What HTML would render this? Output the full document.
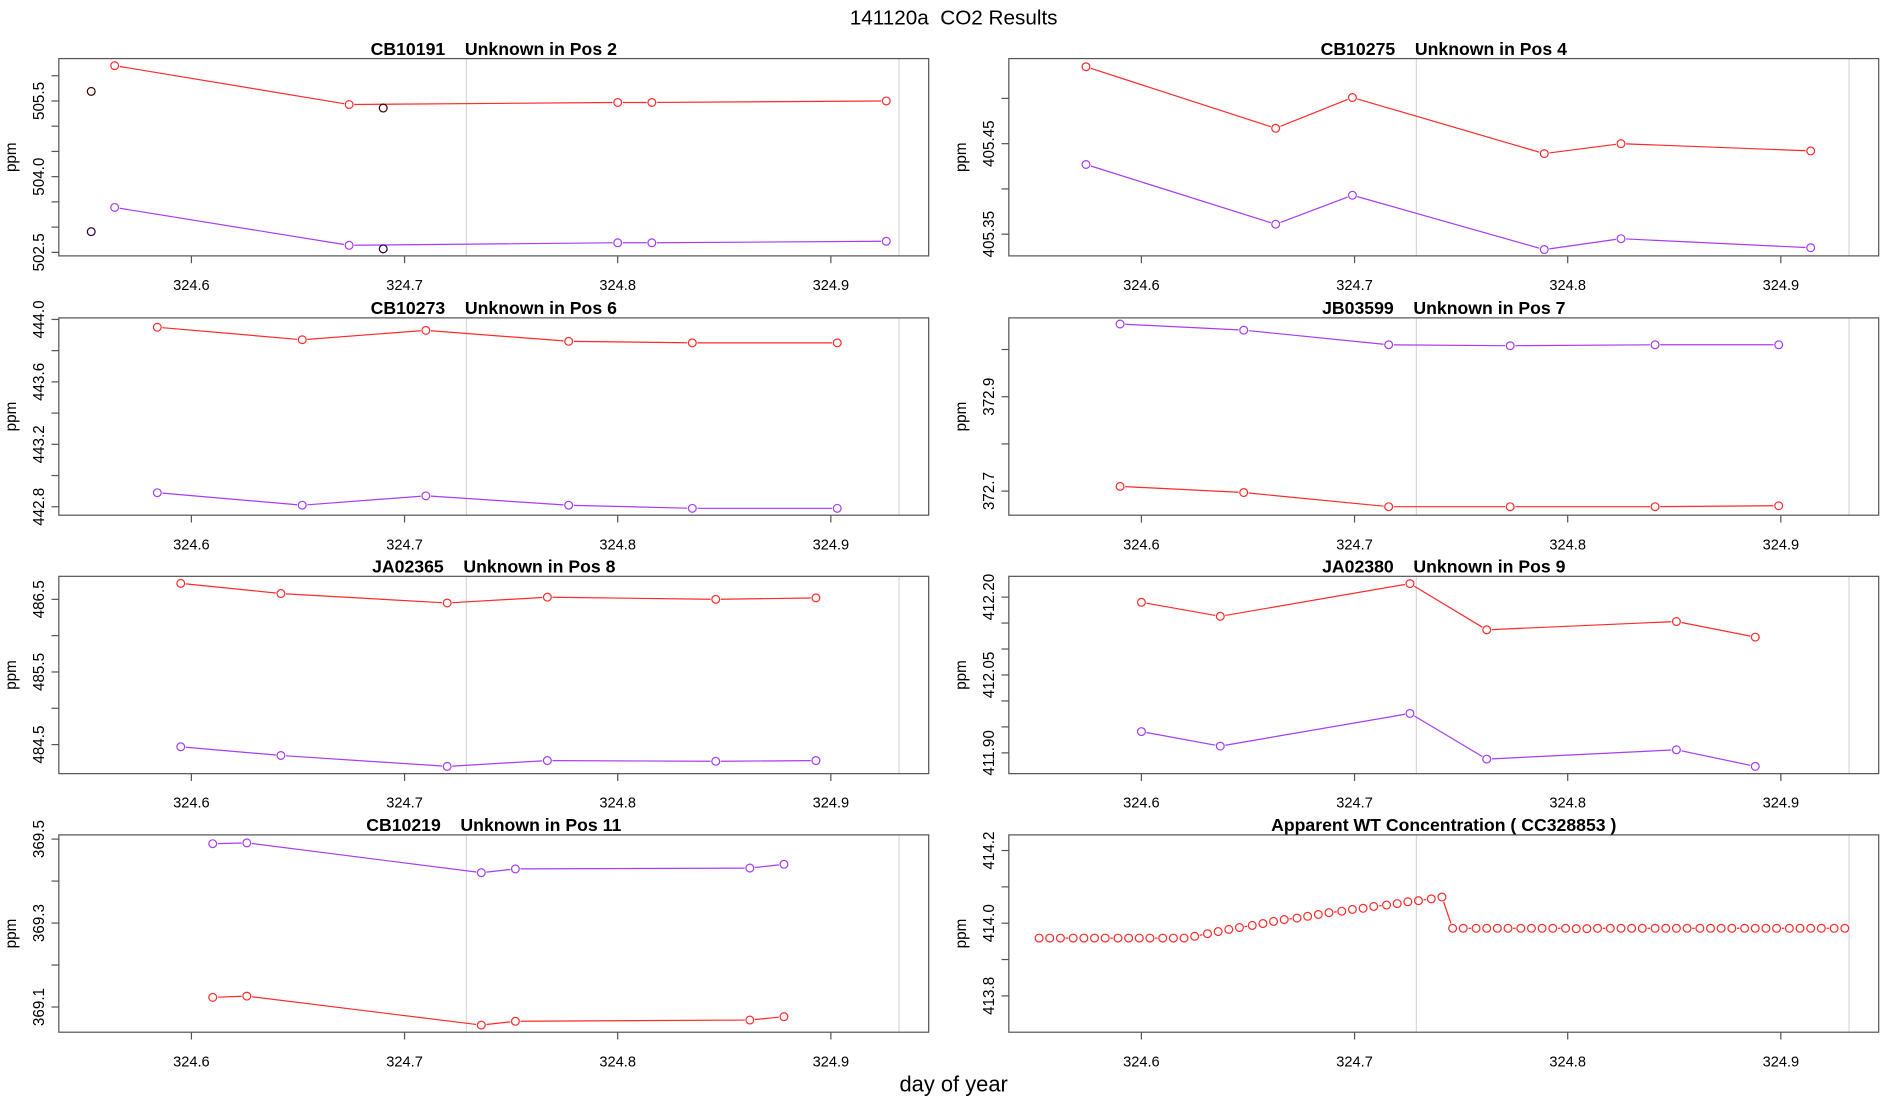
<!DOCTYPE html>
<html><head><meta charset="utf-8"><style>
html,body{margin:0;padding:0;background:#fff}
svg{display:block}
text{font-family:"Liberation Sans",sans-serif}
</style></head><body>
<svg id="chart" width="1900" height="1100" viewBox="0 0 1560 903.16" xmlns="http://www.w3.org/2000/svg">
<text x="783" y="20" font-size="17" text-anchor="middle">141120a&#160;&#160;CO2 Results</text>
<text x="783" y="896" font-size="18" text-anchor="middle">day of year</text>
</svg>
<script>
// ---- data ----
const xTickLabels = [324.6, 324.7, 324.8, 324.9];
const refLines = [324.729, 324.932];

const p1Title = "CB10191    Unknown in Pos 2";
const p1X = [324.564, 324.674, 324.800, 324.816, 324.926];
const p1Red = [506.20, 505.43, 505.47, 505.47, 505.50];
const p1Purple = [503.39, 502.64, 502.69, 502.69, 502.72];
const p1DarkX = [324.553, 324.690];
const p1DarkRed = [505.69, 505.36];
const p1DarkPurple = [502.91, 502.57];

const p2Title = "CB10275    Unknown in Pos 4";
const p2X = [324.574, 324.663, 324.699, 324.789, 324.825, 324.914];
const p2Red = [405.535, 405.467, 405.501, 405.439, 405.450, 405.442];
const p2Purple = [405.427, 405.361, 405.393, 405.333, 405.345, 405.335];

const p3Title = "CB10273    Unknown in Pos 6";
const p3X = [324.584, 324.652, 324.710, 324.777, 324.835, 324.903];
const p3Red = [443.95, 443.87, 443.93, 443.86, 443.85, 443.85];
const p3Purple = [442.89, 442.81, 442.87, 442.81, 442.79, 442.79];

const p4Title = "JB03599    Unknown in Pos 7";
const p4X = [324.590, 324.648, 324.716, 324.773, 324.841, 324.899];
const p4Purple = [373.054, 373.041, 373.010, 373.008, 373.010, 373.010];
const p4Red = [372.710, 372.697, 372.667, 372.667, 372.667, 372.669];

const p5Title = "JA02365    Unknown in Pos 8";
const p5X = [324.595, 324.642, 324.720, 324.767, 324.846, 324.893];
const p5Red = [486.72, 486.58, 486.45, 486.53, 486.50, 486.52];
const p5Purple = [484.47, 484.35, 484.20, 484.28, 484.27, 484.28];

const p6Title = "JA02380    Unknown in Pos 9";
const p6X = [324.600, 324.637, 324.726, 324.762, 324.851, 324.888];
const p6Red = [412.190, 412.163, 412.226, 412.137, 412.153, 412.123];
const p6Purple = [411.941, 411.913, 411.976, 411.888, 411.906, 411.874];

const p7Title = "CB10219    Unknown in Pos 11";
const p7X = [324.610, 324.626, 324.736, 324.752, 324.862, 324.878];
const p7Purple = [369.489, 369.491, 369.420, 369.429, 369.431, 369.440];
const p7Red = [369.123, 369.126, 369.057, 369.066, 369.069, 369.077];

const p8Title = "Apparent WT Concentration ( CC328853 )";
const p8X = [324.552,324.557,324.562,324.568,324.573,324.578,324.583,324.589,324.594,324.599,324.604,324.610,324.615,324.620,324.625,324.631,324.636,324.641,324.646,324.652,324.657,324.662,324.667,324.673,324.678,324.683,324.688,324.694,324.699,324.704,324.709,324.715,324.720,324.725,324.730,324.736,324.741,
324.746,324.751,324.757,324.762,324.767,324.772,324.778,324.783,324.788,324.793,324.799,324.804,324.809,324.814,324.820,324.825,324.830,324.835,324.841,324.846,324.851,324.856,324.862,324.867,324.872,324.877,324.883,324.888,324.893,324.898,324.904,324.909,324.914,324.919,324.925,324.930];
const p8Red = [413.959,413.959,413.959,413.959,413.959,413.959,413.959,413.959,413.959,413.959,413.959,413.959,413.959,413.959,
413.964,413.971,413.977,413.983,413.988,413.994,413.999,414.005,414.010,414.014,414.019,414.024,414.029,414.033,414.038,414.041,414.046,414.050,414.054,414.059,414.062,414.067,414.072,
413.986,413.986,413.986,413.986,413.986,413.986,413.986,413.986,413.986,413.986,413.986,413.985,413.985,413.986,413.986,413.986,413.986,413.986,413.986,413.986,413.986,413.986,413.986,413.986,413.986,413.986,413.986,413.986,413.986,413.986,413.986,413.986,413.986,413.986,413.986,413.986];

// y-axis settings
const p1YTicks = [502.5,503.0,503.5,504.0,504.5,505.0,505.5,506.0];
const p1YLabels = ["502.5","504.0","505.5"];
const p2YTicks = [405.35,405.40,405.45,405.50];
const p2YLabels = ["405.35","405.45"];
const p3YTicks = [442.8,443.0,443.2,443.4,443.6,443.8,444.0];
const p3YLabels = ["442.8","443.2","443.6","444.0"];
const p4YTicks = [372.7,372.8,372.9,373.0];
const p4YLabels = ["372.7","372.9"];
const p5YTicks = [484.5,485.0,485.5,486.0,486.5];
const p5YLabels = ["484.5","485.5","486.5"];
const p6YTicks = [411.90,411.95,412.00,412.05,412.10,412.15,412.20];
const p6YLabels = ["411.90","412.05","412.20"];
const p7YTicks = [369.1,369.2,369.3,369.4,369.5];
const p7YLabels = ["369.1","369.3","369.5"];
const p8YTicks = [413.8,413.9,414.0,414.1,414.2];
const p8YLabels = ["413.8","414.0","414.2"];

// ---- drawing ----
const NS = "http://www.w3.org/2000/svg";
const svg = document.getElementById('chart');
const RED = "#ff2a2a", PURPLE = "#a63cf5";
const X0 = 324.5378, X1 = 324.9459, BOXW = 714.2;
const rowTops = [48.1, 261, 473.2, 685.5];
const BOXH = 162;

function mk(tag, attrs, parent) {
  const e = document.createElementNS(NS, tag);
  for (const k in attrs) e.setAttribute(k, attrs[k]);
  (parent || svg).appendChild(e);
  return e;
}

function panel(name, title, col, row, yMin, yMax, yTicks, yLabels, series) {
  const left = col === 0 ? 48.3 : 828.3;
  const top = rowTops[row];
  const g = mk('g', {});
  
  
  const xs = v => left + (v - X0) / (X1 - X0) * BOXW;
  const ys = v => top + BOXH - (v - yMin) / (yMax - yMin) * BOXH;
  refLines.forEach(r => {
    const l = mk('line', {x1: xs(r), x2: xs(r), y1: top, y2: top + BOXH, stroke: '#d8d8d8', 'stroke-width': 1}, g);
    
    
  });
  const box = mk('rect', {x: left, y: top, width: BOXW, height: BOXH, fill: 'none', stroke: '#555', 'stroke-width': 1}, g);
  
  
  const t = mk('text', {x: left + BOXW / 2, y: top - 3, 'font-size': 14.5, 'font-weight': 'bold', 'text-anchor': 'middle'}, g);
  t.textContent = title.replace(/ /g, '\u00a0');
  
  
  xTickLabels.forEach(v => {
    mk('line', {x1: xs(v), x2: xs(v), y1: top + BOXH, y2: top + BOXH + 6, stroke: '#555'}, g);
    const tl = mk('text', {x: xs(v), y: top + BOXH + 28, 'font-size': 12, 'text-anchor': 'middle'}, g);
    tl.textContent = v.toFixed(1);
    
    
  });
  yTicks.forEach(v => {
    mk('line', {x1: left - 6, x2: left, y1: ys(v), y2: ys(v), stroke: '#555'}, g);
  });
  yLabels.forEach(s => {
    const y = ys(parseFloat(s));
    const tl = mk('text', {x: 0, y: 0, 'font-size': 12.5, 'text-anchor': 'middle', transform: `translate(${left - 12},${y}) rotate(-90)`}, g);
    tl.textContent = s;
    
    
  });
  const yl = mk('text', {x: 0, y: 0, 'font-size': 12.5, 'text-anchor': 'middle', transform: `translate(${left - 35},${top + BOXH / 2}) rotate(-90)`}, g);
  yl.textContent = 'ppm';
  
  
  const R = 3.2;
  series.forEach(s => {
    const sg = mk('g', {}, g);
    
    
    const px = s.x.map(xs), py = s.y.map(ys);
    if (s.lines) {
      for (let i = 0; i < px.length - 1; i++) {
        const dx = px[i + 1] - px[i], dy = py[i + 1] - py[i];
        const d = Math.hypot(dx, dy);
        if (d <= 2 * R + 4) continue;
        const ux = dx / d, uy = dy / d;
        mk('line', {x1: px[i] + ux * (R + 1), y1: py[i] + uy * (R + 1), x2: px[i + 1] - ux * (R + 1), y2: py[i + 1] - uy * (R + 1), stroke: s.color, 'stroke-width': 1}, sg);
      }
    }
    for (let i = 0; i < px.length; i++) {
      const c = mk('circle', {cx: px[i], cy: py[i], r: R, fill: 'none', stroke: s.color, 'stroke-width': 1}, sg);
      
      
    }
  });
}

panel('panel-cb10191', p1Title, 0, 0, 502.43, 506.34, p1YTicks, p1YLabels, [
  {name: 'series-red', x: p1X, y: p1Red, color: RED, lines: true},
  {name: 'series-purple', x: p1X, y: p1Purple, color: PURPLE, lines: true},
  {name: 'series-dark-red', x: p1DarkX, y: p1DarkRed, color: '#3a0000', lines: false},
  {name: 'series-dark-purple', x: p1DarkX, y: p1DarkPurple, color: '#2a0040', lines: false}
]);
panel('panel-cb10275', p2Title, 1, 0, 405.326, 405.544, p2YTicks, p2YLabels, [
  {name: 'series-red', x: p2X, y: p2Red, color: RED, lines: true},
  {name: 'series-purple', x: p2X, y: p2Purple, color: PURPLE, lines: true}
]);
panel('panel-cb10273', p3Title, 0, 1, 442.746, 444.01, p3YTicks, p3YLabels, [
  {name: 'series-red', x: p3X, y: p3Red, color: RED, lines: true},
  {name: 'series-purple', x: p3X, y: p3Purple, color: PURPLE, lines: true}
]);
panel('panel-jb03599', p4Title, 1, 1, 372.649, 373.067, p4YTicks, p4YLabels, [
  {name: 'series-purple', x: p4X, y: p4Purple, color: PURPLE, lines: true},
  {name: 'series-red', x: p4X, y: p4Red, color: RED, lines: true}
]);
panel('panel-ja02365', p5Title, 0, 2, 484.1, 486.817, p5YTicks, p5YLabels, [
  {name: 'series-red', x: p5X, y: p5Red, color: RED, lines: true},
  {name: 'series-purple', x: p5X, y: p5Purple, color: PURPLE, lines: true}
]);
panel('panel-ja02380', p6Title, 1, 2, 411.86, 412.24, p6YTicks, p6YLabels, [
  {name: 'series-red', x: p6X, y: p6Red, color: RED, lines: true},
  {name: 'series-purple', x: p6X, y: p6Purple, color: PURPLE, lines: true}
]);
panel('panel-cb10219', p7Title, 0, 3, 369.04, 369.51, p7YTicks, p7YLabels, [
  {name: 'series-purple', x: p7X, y: p7Purple, color: PURPLE, lines: true},
  {name: 'series-red', x: p7X, y: p7Red, color: RED, lines: true}
]);
panel('panel-wt-concentration', p8Title, 1, 3, 413.7, 414.243, p8YTicks, p8YLabels, [
  {name: 'series-wt-concentration', x: p8X, y: p8Red, color: RED, lines: true}
]);
</script>
</body></html>
